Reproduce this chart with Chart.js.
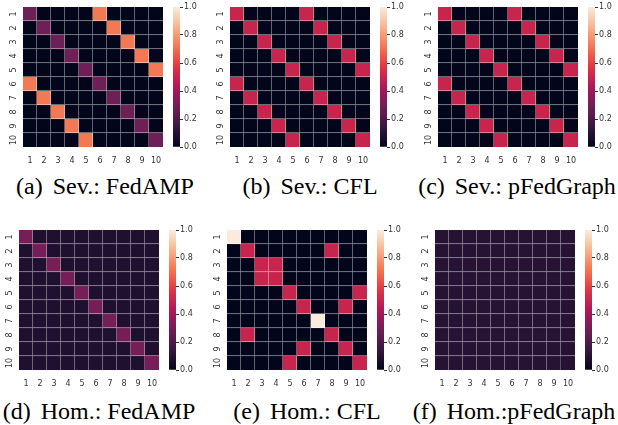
<!DOCTYPE html>
<html>
<head>
<meta charset="UTF-8">
<title>Heatmaps</title>
<script src="https://cdn.jsdelivr.net/npm/chart.js"></script>
<style>
  body { margin: 0; background: #fff; width: 618px; height: 425px; position: relative; overflow: hidden; }
  canvas { position: absolute; }
  .cap { position: absolute; font-family: "Liberation Serif", "Times New Roman", serif; font-size: 24px; color: #000; white-space: nowrap; transform: translate(-50%, -50%); }
  .cap span { margin-left: 10px; }
</style>
</head>
<body>
<script>
const clients = ['1', '2', '3', '4', '5', '6', '7', '8', '9', '10'];
const cbTicks = [0, 0.2, 0.4, 0.6, 0.8, 1.0];

const sevFedAMP = [
  [0.28, 0, 0, 0, 0, 0.72, 0, 0, 0, 0],
  [0, 0.28, 0, 0, 0, 0, 0.72, 0, 0, 0],
  [0, 0, 0.28, 0, 0, 0, 0, 0.72, 0, 0],
  [0, 0, 0, 0.28, 0, 0, 0, 0, 0.72, 0],
  [0, 0, 0, 0, 0.28, 0, 0, 0, 0, 0.72],
  [0.72, 0, 0, 0, 0, 0.28, 0, 0, 0, 0],
  [0, 0.72, 0, 0, 0, 0, 0.28, 0, 0, 0],
  [0, 0, 0.72, 0, 0, 0, 0, 0.28, 0, 0],
  [0, 0, 0, 0.72, 0, 0, 0, 0, 0.28, 0],
  [0, 0, 0, 0, 0.72, 0, 0, 0, 0, 0.28]
];
const sevCFL = [
  [0.5, 0, 0, 0, 0, 0.5, 0, 0, 0, 0],
  [0, 0.5, 0, 0, 0, 0, 0.5, 0, 0, 0],
  [0, 0, 0.5, 0, 0, 0, 0, 0.5, 0, 0],
  [0, 0, 0, 0.5, 0, 0, 0, 0, 0.5, 0],
  [0, 0, 0, 0, 0.5, 0, 0, 0, 0, 0.5],
  [0.5, 0, 0, 0, 0, 0.5, 0, 0, 0, 0],
  [0, 0.5, 0, 0, 0, 0, 0.5, 0, 0, 0],
  [0, 0, 0.5, 0, 0, 0, 0, 0.5, 0, 0],
  [0, 0, 0, 0.5, 0, 0, 0, 0, 0.5, 0],
  [0, 0, 0, 0, 0.5, 0, 0, 0, 0, 0.5]
];
const sevPFedGraph = [
  [0.5, 0, 0, 0, 0, 0.5, 0, 0, 0, 0],
  [0, 0.5, 0, 0, 0, 0, 0.5, 0, 0, 0],
  [0, 0, 0.5, 0, 0, 0, 0, 0.5, 0, 0],
  [0, 0, 0, 0.5, 0, 0, 0, 0, 0.5, 0],
  [0, 0, 0, 0, 0.5, 0, 0, 0, 0, 0.5],
  [0.5, 0, 0, 0, 0, 0.5, 0, 0, 0, 0],
  [0, 0.5, 0, 0, 0, 0, 0.5, 0, 0, 0],
  [0, 0, 0.5, 0, 0, 0, 0, 0.5, 0, 0],
  [0, 0, 0, 0.5, 0, 0, 0, 0, 0.5, 0],
  [0, 0, 0, 0, 0.5, 0, 0, 0, 0, 0.5]
];
const homFedAMP = [
  [0.3, 0.078, 0.078, 0.078, 0.078, 0.078, 0.078, 0.078, 0.078, 0.078],
  [0.078, 0.3, 0.078, 0.078, 0.078, 0.078, 0.078, 0.078, 0.078, 0.078],
  [0.078, 0.078, 0.3, 0.078, 0.078, 0.078, 0.078, 0.078, 0.078, 0.078],
  [0.078, 0.078, 0.078, 0.3, 0.078, 0.078, 0.078, 0.078, 0.078, 0.078],
  [0.078, 0.078, 0.078, 0.078, 0.3, 0.078, 0.078, 0.078, 0.078, 0.078],
  [0.078, 0.078, 0.078, 0.078, 0.078, 0.3, 0.078, 0.078, 0.078, 0.078],
  [0.078, 0.078, 0.078, 0.078, 0.078, 0.078, 0.3, 0.078, 0.078, 0.078],
  [0.078, 0.078, 0.078, 0.078, 0.078, 0.078, 0.078, 0.3, 0.078, 0.078],
  [0.078, 0.078, 0.078, 0.078, 0.078, 0.078, 0.078, 0.078, 0.3, 0.078],
  [0.078, 0.078, 0.078, 0.078, 0.078, 0.078, 0.078, 0.078, 0.078, 0.3]
];
const homCFL = [
  [1, 0, 0, 0, 0, 0, 0, 0, 0, 0],
  [0, 0.5, 0, 0, 0, 0, 0, 0.5, 0, 0],
  [0, 0, 0.5, 0.5, 0, 0, 0, 0, 0, 0],
  [0, 0, 0.5, 0.5, 0, 0, 0, 0, 0, 0],
  [0, 0, 0, 0, 0.5, 0, 0, 0, 0, 0.5],
  [0, 0, 0, 0, 0, 0.5, 0, 0, 0.5, 0],
  [0, 0, 0, 0, 0, 0, 1, 0, 0, 0],
  [0, 0.5, 0, 0, 0, 0, 0, 0.5, 0, 0],
  [0, 0, 0, 0, 0, 0.5, 0, 0, 0.5, 0],
  [0, 0, 0, 0, 0.5, 0, 0, 0, 0, 0.5]
];
const homPFedGraph = [
  [0.1, 0.1, 0.1, 0.1, 0.1, 0.1, 0.1, 0.1, 0.1, 0.1],
  [0.1, 0.1, 0.1, 0.1, 0.1, 0.1, 0.1, 0.1, 0.1, 0.1],
  [0.1, 0.1, 0.1, 0.1, 0.1, 0.1, 0.1, 0.1, 0.1, 0.1],
  [0.1, 0.1, 0.1, 0.1, 0.1, 0.1, 0.1, 0.1, 0.1, 0.1],
  [0.1, 0.1, 0.1, 0.1, 0.1, 0.1, 0.1, 0.1, 0.1, 0.1],
  [0.1, 0.1, 0.1, 0.1, 0.1, 0.1, 0.1, 0.1, 0.1, 0.1],
  [0.1, 0.1, 0.1, 0.1, 0.1, 0.1, 0.1, 0.1, 0.1, 0.1],
  [0.1, 0.1, 0.1, 0.1, 0.1, 0.1, 0.1, 0.1, 0.1, 0.1],
  [0.1, 0.1, 0.1, 0.1, 0.1, 0.1, 0.1, 0.1, 0.1, 0.1],
  [0.1, 0.1, 0.1, 0.1, 0.1, 0.1, 0.1, 0.1, 0.1, 0.1]
];

const captions = ['(a)|Sev.: FedAMP', '(b)|Sev.: CFL', '(c)|Sev.: pFedGraph',
                  '(d)|Hom.: FedAMP', '(e)|Hom.: CFL', '(f)|Hom.:pFedGraph'];

// panel placement: heatmap left/top, caption centre
const panels = [
  { m: sevFedAMP,    L: 23,  T: 7,   cx: 105, cy: 186 },
  { m: sevCFL,       L: 230, T: 7,   cx: 310, cy: 186 },
  { m: sevPFedGraph, L: 438, T: 7,   cx: 517, cy: 186 },
  { m: homFedAMP,    L: 19,  T: 230, cx: 99,  cy: 411 },
  { m: homCFL,       L: 227, T: 230, cx: 307, cy: 411 },
  { m: homPFedGraph, L: 435, T: 230, cx: 514, cy: 411 }
];
const SIZE = 140, AXW = 20, PAD = 6, CBW = 7;

// seaborn "rocket" colormap stops
const rocketStops = [
  [0, [3, 5, 26]], [0.143, [53, 25, 62]], [0.286, [112, 31, 87]], [0.429, [173, 23, 89]],
  [0.571, [225, 51, 66]], [0.714, [243, 118, 81]], [0.857, [246, 180, 143]], [1, [250, 235, 221]]
];
function rocketRGB(v) {
  v = Math.max(0, Math.min(1, v));
  for (let i = 1; i < rocketStops.length; i++) {
    const [p1, c1] = rocketStops[i];
    const [p0, c0] = rocketStops[i - 1];
    if (v <= p1) {
      const t = (v - p0) / (p1 - p0);
      return c0.map((c, k) => Math.round(c + (c1[k] - c) * t));
    }
  }
  return rocketStops[rocketStops.length - 1][1];
}
function rocket(v) { return 'rgb(' + rocketRGB(v).join(',') + ')'; }
function lineCol(v) {
  const c = rocketRGB(v).map(x => Math.round(x + (255 - x) * 0.55));
  return 'rgb(' + c.join(',') + ')';
}

const tickFont = { family: 'DejaVu Sans', size: 8 };
const tickColor = '#333';

function noPad(scale) {
  scale.paddingTop = 0; scale.paddingBottom = 0;
  scale.paddingLeft = 0; scale.paddingRight = 0;
}

// row labels, rotated like seaborn's
const rowLabels = {
  id: 'rowLabels',
  afterDraw(chart) {
    const s = chart.scales.y, ctx = chart.ctx;
    const x = chart.chartArea.left - 9;
    ctx.save();
    ctx.font = '8px "DejaVu Sans"';
    ctx.fillStyle = tickColor;
    ctx.textAlign = 'center';
    ctx.textBaseline = 'middle';
    clients.forEach((lab, i) => {
      ctx.save();
      ctx.translate(x, s.getPixelForValue(i + 0.5));
      ctx.rotate(-Math.PI / 2);
      ctx.fillText(lab, 0, 0);
      ctx.restore();
    });
    ctx.restore();
  }
};

function makeCanvas(left, top, w, h) {
  const c = document.createElement('canvas');
  c.width = w; c.height = h;
  c.style.left = left + 'px'; c.style.top = top + 'px';
  c.style.width = w + 'px'; c.style.height = h + 'px';
  document.body.appendChild(c);
  return c;
}

panels.forEach((p, idx) => {
  // heatmap: one stacked dataset per row
  const heat = makeCanvas(p.L - AXW, p.T - PAD, SIZE + AXW, SIZE + PAD + AXW);
  new Chart(heat, {
    type: 'bar',
    data: {
      labels: clients,
      datasets: p.m.map((row, r) => ({
        data: row.map(() => 1),
        backgroundColor: row.map(rocket),
        borderColor: row.map(lineCol),
        borderWidth: row.map((v, c) => ({ top: 0, left: 0, right: c < 9 ? 1 : 0, bottom: r < 9 ? 1 : 0 })),
        borderSkipped: false,
        barPercentage: 1,
        categoryPercentage: 1
      }))
    },
    options: {
      responsive: false,
      animation: false,
      layout: { padding: { top: PAD } },
      plugins: { legend: { display: false }, tooltip: { enabled: false } },
      scales: {
        x: {
          stacked: true,
          grid: { display: false },
          border: { display: false },
          ticks: { font: tickFont, color: tickColor, padding: 1, maxRotation: 0 },
          afterFit: s => { s.height = AXW; noPad(s); }
        },
        y: {
          stacked: true,
          min: 0, max: 10,
          reverse: true,
          grid: { display: false },
          border: { display: false },
          ticks: { display: false },
          afterFit: s => { s.width = AXW; noPad(s); }
        }
      }
    },
    plugins: [rowLabels]
  });

  // colour bar
  const cb = makeCanvas(p.L + SIZE + 10, p.T - PAD, CBW + 26, SIZE + 2 * PAD);
  new Chart(cb, {
    type: 'bar',
    data: {
      labels: ['cb'],
      datasets: [{
        data: [[0, 1]],
        barPercentage: 1,
        categoryPercentage: 1,
        backgroundColor: ctx => {
          const a = ctx.chart.chartArea;
          if (!a) return '#000';
          const g = ctx.chart.ctx.createLinearGradient(0, a.bottom, 0, a.top);
          for (let i = 0; i <= 20; i++) g.addColorStop(i / 20, rocket(i / 20));
          return g;
        }
      }]
    },
    options: {
      responsive: false,
      animation: false,
      layout: { padding: { top: PAD, bottom: PAD } },
      plugins: { legend: { display: false }, tooltip: { enabled: false } },
      scales: {
        x: { display: false },
        y: {
          position: 'right',
          min: 0, max: 1,
          afterBuildTicks: s => { s.ticks = cbTicks.map(v => ({ value: v })); },
          grid: { drawOnChartArea: false, drawTicks: true, tickLength: 3, color: tickColor, lineWidth: 1 },
          border: { display: false },
          ticks: { font: tickFont, color: tickColor, padding: 1, callback: v => v.toFixed(1) },
          afterFit: s => { s.width = 26; noPad(s); }
        }
      }
    }
  });

  const cap = document.createElement('div');
  cap.className = 'cap';
  const parts = captions[idx].split('|');
  cap.innerHTML = parts[0] + '<span>' + parts[1] + '</span>';
  cap.style.left = p.cx + 'px';
  cap.style.top = p.cy + 'px';
  document.body.appendChild(cap);
});
</script>
</body>
</html>
